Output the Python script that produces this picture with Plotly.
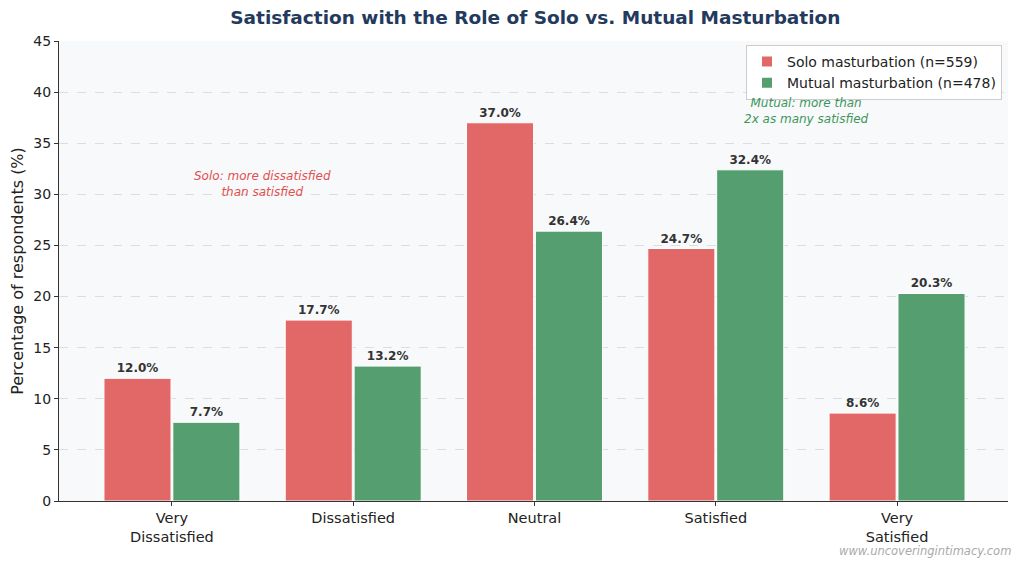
import plotly.graph_objects as go

categories = ["Very<br>Dissatisfied", "Dissatisfied", "Neutral", "Satisfied", "Very<br>Satisfied"]
solo = [12.0, 17.7, 37.0, 24.7, 8.6]
mutual = [7.7, 13.2, 26.4, 32.4, 20.3]
solo_name = "Solo masturbation (n=559)"
mutual_name = "Mutual masturbation (n=478)"
yticks = [0, 5, 10, 15, 20, 25, 30, 35, 40, 45]

RED = "rgb(226,104,104)"
GREEN = "rgb(84,158,111)"
FONT = "DejaVu Sans"

fig = go.Figure()
fig.add_trace(go.Bar(
    x=categories, y=solo, name=solo_name, width=0.37, offset=-0.375,
    marker=dict(color=RED, line=dict(color="white", width=1)),
    text=[f"{v:.1f}%" for v in solo], textposition="outside",
    textfont=dict(family=FONT, size=12, color="#333333", weight="bold"),
    cliponaxis=False,
))
fig.add_trace(go.Bar(
    x=categories, y=mutual, name=mutual_name, width=0.37, offset=0.005,
    marker=dict(color=GREEN, line=dict(color="white", width=1)),
    text=[f"{v:.1f}%" for v in mutual], textposition="outside",
    textfont=dict(family=FONT, size=12, color="#333333", weight="bold"),
    cliponaxis=False,
))

fig.add_annotation(x=0.5, y=31.0, xref="x", yref="y", showarrow=False,
                   text="<i>Solo: more dissatisfied<br>than satisfied</i>",
                   font=dict(family=FONT, size=12, color="rgb(226,80,80)"))
fig.add_annotation(x=3.5, y=38.2, xref="x", yref="y", showarrow=False,
                   text="<i>Mutual: more than<br>2x as many satisfied</i>",
                   font=dict(family=FONT, size=12, color="rgb(60,150,90)"))
fig.add_annotation(x=1.0, y=0.0, xref="paper", yref="paper", xanchor="right", yanchor="middle",
                   xshift=5, yshift=-50, showarrow=False,
                   text="<i>www.uncoveringintimacy.com</i>",
                   font=dict(family=FONT, size=11.5, color="rgb(170,170,170)"))

fig.update_layout(
    width=1024, height=565,
    margin=dict(l=51, r=24, t=33, b=72),
    paper_bgcolor="white", plot_bgcolor="#f8f9fb",
    font=dict(family=FONT, size=14, color="#222222"),
    title=dict(text="<b>Satisfaction with the Role of Solo vs. Mutual Masturbation</b>",
               x=0.515, xanchor="center", y=1 - 10 / 565, yanchor="middle", automargin=False,
               font=dict(family=FONT, size=18.5, color="#23395d")),
    showlegend=True,
    legend=dict(x=1 - 6 / 949, y=1 - 4 / 460, xanchor="right", yanchor="top",
                bgcolor="rgba(255,255,255,0.92)", bordercolor="#cccccc", borderwidth=1,
                font=dict(family=FONT, size=14, color="#222222"),
                tracegroupgap=0, itemsizing="constant"),
)
fig.update_xaxes(range=[-0.623, 4.612], showline=True, linecolor="#333333", linewidth=1,
                 ticks="outside", ticklen=4, tickcolor="#333333", automargin=False,
                 tickfont=dict(family=FONT, size=14.5, color="#222222"), showgrid=False)
fig.update_yaxes(range=[0, 45], tickvals=yticks, showline=True, linecolor="#333333", linewidth=1,
                 ticks="outside", ticklen=4, tickcolor="#333333", automargin=False,
                 tickfont=dict(family=FONT, size=14, color="#222222"),
                 showgrid=True, gridcolor="#dddddd", griddash="dash", gridwidth=1,
                 zeroline=False,
                 title=dict(text="Percentage of respondents (%)",
                            font=dict(family=FONT, size=16, color="#222222"), standoff=6))

fig.write_html("out.html")
